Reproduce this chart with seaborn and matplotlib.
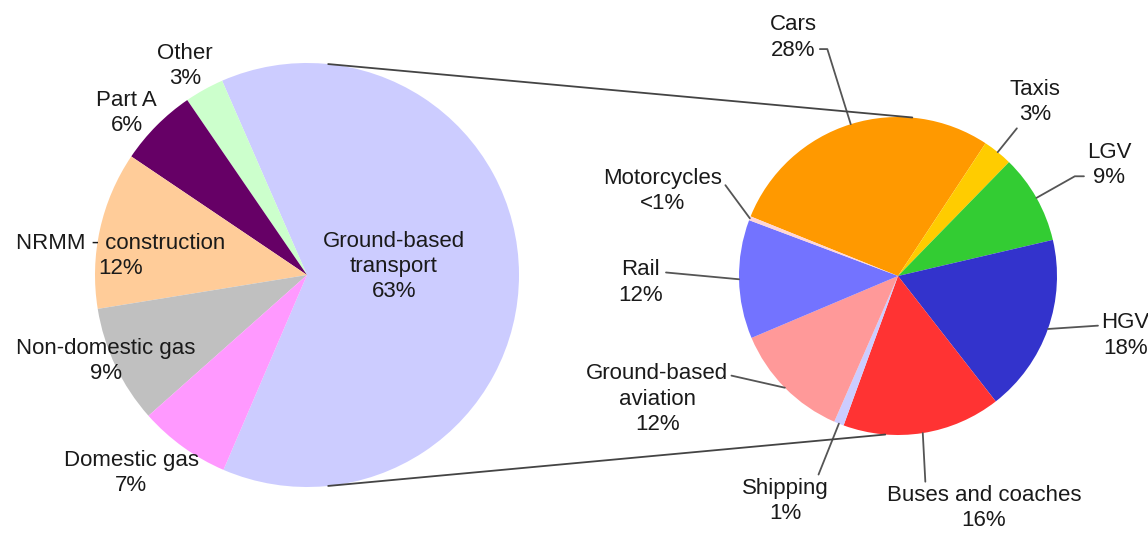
import numpy as np
import matplotlib.pyplot as plt
import seaborn as sns
from matplotlib.patches import ConnectionPatch

# left pie: all sources
sources = ["Ground-based\ntransport", "Other", "Part A", "NRMM - construction",
           "Non-domestic gas", "Domestic gas"]
source_pct = [63, 3, 6, 12, 9, 7]
source_colors = ["#CCCCFF", "#CCFFCC", "#660066", "#FFCC99", "#C0C0C0", "#FF99FF"]

# right pie: breakdown of ground-based transport
transport = ["Cars", "Taxis", "LGV", "HGV", "Buses and coaches", "Shipping",
             "Ground-based\naviation", "Rail", "Motorcycles"]
transport_pct = [28, 3, 9, 18, 16, 1, 12, 12, 0.4]
transport_text = ["28%", "3%", "9%", "18%", "16%", "1%", "12%", "12%", "<1%"]
transport_colors = ["#FF9900", "#FFCC00", "#33CC33", "#3333CC", "#FF3333",
                    "#CCCCFF", "#FF9999", "#7373FF", "#FFD6D6"]

# label layout (pie units, radius = 1)
source_label_pos = [(0.41, 0.04), (-0.575, 0.985), (-0.85, 0.765), (-0.88, 0.09),
                    (-0.95, -0.405), (-0.83, -0.935)]
transport_label_pos = [(-0.66, 1.50), (0.86, 1.095), (1.33, 0.70), (1.43, -0.375),
                       (0.54, -1.46), (-0.71, -1.415), (-1.515, -0.775),
                       (-1.62, -0.04), (-1.48, 0.535)]
# where the leader leaves the text box, and whether it has an elbow
transport_relpos = [(1, 0.25), (0, 0.25), (0, 0.25), (0, 0.72), (0.2, 1.0),
                    (1, 0.72), (1, 0.84), (1, 0.72), (1, 0.72)]
transport_elbow = [True, True, True, False, False, True, False, False, False]

sns.set_theme(style="white")
plt.rcParams["font.family"] = ["Liberation Sans", "DejaVu Sans"]
TEXT_COLOR = "#1a1a1a"
FS = 16
LS = 1.27

fig = plt.figure(figsize=(11.48, 5.33), dpi=100)
W, H = 1148, 533


def pie_axes(cx, cy, r):
    return fig.add_axes([(cx - r) / W, (H - cy - r) / H, 2 * r / W, 2 * r / H])


ax1 = pie_axes(307, 275, 212)
ax2 = pie_axes(898, 276, 159)

ax1.pie(source_pct, colors=source_colors, startangle=-113.2, counterclock=True,
        wedgeprops=dict(linewidth=0))
for name, pct, (x, y) in zip(sources, source_pct, source_label_pos):
    ax1.text(x, y, f"{name}\n{pct}%", ha="center", va="center", fontsize=FS,
             color=TEXT_COLOR, linespacing=LS)

wedges, _ = ax2.pie(transport_pct, colors=transport_colors, startangle=158,
                    counterclock=False, wedgeprops=dict(linewidth=0))
for w, name, txt, pos, rel, elbow in zip(wedges, transport, transport_text,
                                         transport_label_pos, transport_relpos,
                                         transport_elbow):
    mid = np.deg2rad((w.theta1 + w.theta2) / 2)
    theta = np.rad2deg(mid)
    if elbow:
        cs = f"angle,angleA=0,angleB={theta:.1f},rad=0"
    else:
        cs = "arc3,rad=0"
    ax2.annotate(f"{name}\n{txt}", xy=(np.cos(mid), np.sin(mid)), xytext=pos,
                 ha="center", va="center", fontsize=FS, color=TEXT_COLOR,
                 linespacing=LS, annotation_clip=False,
                 arrowprops=dict(arrowstyle="-", color="#555555", lw=1.3,
                                 connectionstyle=cs, relpos=rel,
                                 shrinkA=0, shrinkB=0))

for ax in (ax1, ax2):
    ax.set_xlim(-1, 1)
    ax.set_ylim(-1, 1)
    ax.axis("off")

# lines joining the ground-based transport slice to the breakdown pie
for a, b in [((0.1, 0.995), (0.09, 0.997)), ((0.1, -0.995), (-0.08, -0.997))]:
    con = ConnectionPatch(xyA=a, coordsA=ax1.transData, xyB=b, coordsB=ax2.transData,
                          color="#444444", lw=1.3)
    fig.add_artist(con)

fig.savefig("out.png", dpi=100)
